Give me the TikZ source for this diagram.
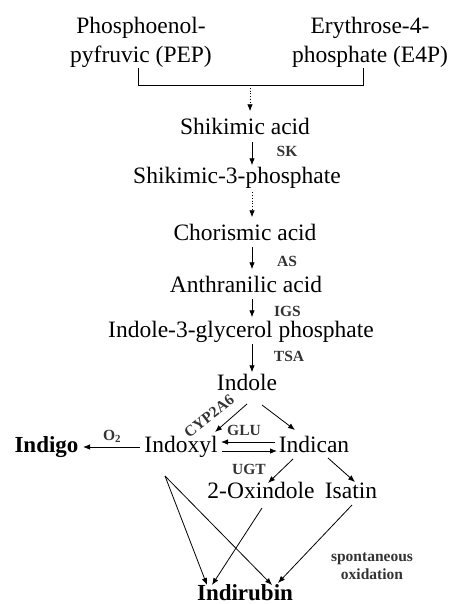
\documentclass[tikz,border=0pt]{standalone}
\usepackage{fontspec}
\setmainfont{Liberation Serif}
\usetikzlibrary{calc,arrows.meta}
\begin{document}
\begin{tikzpicture}[x=1pt,y=-1pt,
  every node/.style={inner sep=0pt},
  chem/.style={font=\fontsize{23.5}{29}\selectfont, text height=16pt, text depth=5.5pt, inner ysep=1.5pt, anchor=base},
  chemtwo/.style={font=\fontsize{23.5}{29}\selectfont, align=center},
  prod/.style={font=\fontsize{23}{28}\selectfont\bfseries, anchor=base},
  enz/.style={font=\fontsize{15.5}{18}\selectfont\bfseries, text=black!80},
  arr/.style={-{Latex[length=7pt,width=5.5pt]}, line width=0.8pt},
  dotarr/.style={arr, dotted},
  link/.style={line width=0.8pt}
]
\useasboundingbox (0,0) rectangle (450,604);

% top precursors
\node[chemtwo] (pep) at (141,42.5) {Phosphoenol-\\pyfruvic (PEP)};
\node[chemtwo] (e4p) at (370,42.5) {Erythrose-4-\\phosphate (E4P)};
\coordinate (bl) at (138,85);
\coordinate (br) at (363,85);
\coordinate (bm) at (250,85);
\coordinate (ax) at (252,0);

% main chain
\node[chem] (shik)  at (245,135) {Shikimic acid};
\node[chem] (s3p)   at (237,183) {Shikimic-3-phosphate};
\node[chem] (chor)  at (245,240) {Chorismic acid};
\node[chem] (anth)  at (246,292) {Anthranilic acid};
\node[chem] (igp)   at (241,337) {Indole-3-glycerol phosphate};
\node[chem] (indole) at (247,390) {Indole};
\node[chem] (indoxyl) at (181,452) {Indoxyl};
\node[chem] (indican) at (314,452) {Indican};
\node[chem] (oxind) at (261,498) {2-Oxindole};
\node[chem] (isatin) at (351,498) {Isatin};
\node[prod] (indigo) at (46.5,452) {Indigo};
\node[prod] (indirubin) at (245,600) {Indirubin};

% enzyme labels
\node[enz, anchor=base] (sk)  at (287,157) {SK};
\node[enz, anchor=base] (as)  at (287,266) {AS};
\node[enz, anchor=base] (igs) at (287.5,316) {IGS};
\node[enz, anchor=base] (tsa) at (289,361) {TSA};
\node[enz, anchor=base] (glu) at (244,435) {GLU};
\node[enz, anchor=base] (ugt) at (249,474) {UGT};
\node[enz, anchor=base] (otwo) at (112,440) {O\textsubscript{2}};
\node[enz, rotate=38] (cyp) at (209,416) {CYP2A6};
\node[enz, align=center] (spont) at (372,566) {spontaneous\\oxidation};

% bracket
\draw[link] (pep.south -| bl) -- (bl) -- (br) -- (e4p.south -| br);
\draw[dotarr, shorten >=6pt] (bm) -- (shik.north -| bm);

% vertical arrows
\draw[arr] (shik.south -| ax) -- (s3p.north -| ax);
\draw[dotarr, shorten <=2pt, shorten >=5pt] (s3p.south -| ax) -- (chor.north -| ax);
\draw[arr, shorten >=5pt] (chor.south -| ax) -- (anth.north -| ax);
\draw[arr, shorten >=2pt] (anth.south -| ax) -- (igp.north -| ax);
\draw[arr] (igp.south -| ax) -- (indole.north -| ax);

% lower network
\draw[arr] ($(indole.base)+(15,15)$) -- ($(indican.base)+(-19,-22)$);
\draw[arr] ($(indole.base)+(0,14)$) -- ($(indoxyl.base)+(34,-20)$);
\draw[arr] ($(indican.base)+(-39,-10)$) -- ($(indoxyl.base)+(40,-10)$);
\draw[arr] ($(indoxyl.base)+(41,-1)$) -- ($(indican.base)+(-37,-1)$);
\draw[arr] ($(indoxyl.base)+(-41,-5)$) -- ($(indigo.base)+(36.5,-5)$);
\draw[arr] ($(indican.base)+(-21,7)$) -- ($(oxind.base)+(7,-15)$);
\draw[arr] ($(indican.base)+(14,6)$) -- ($(isatin.base)+(4,-16)$);

\coordinate (fork) at ($(indoxyl.base)+(-16,24)$);
\draw[arr] (fork) -- ($(indirubin.base)+(-38,-15)$);
\draw[arr] (fork) -- ($(indirubin.base)+(27,-15)$);
\draw[arr] ($(oxind.base)+(1,10)$) -- ($(indirubin.base)+(-33,-15)$);
\draw[arr] ($(isatin.base)+(1,7)$) -- ($(indirubin.base)+(33,-17)$);
\end{tikzpicture}
\end{document}
